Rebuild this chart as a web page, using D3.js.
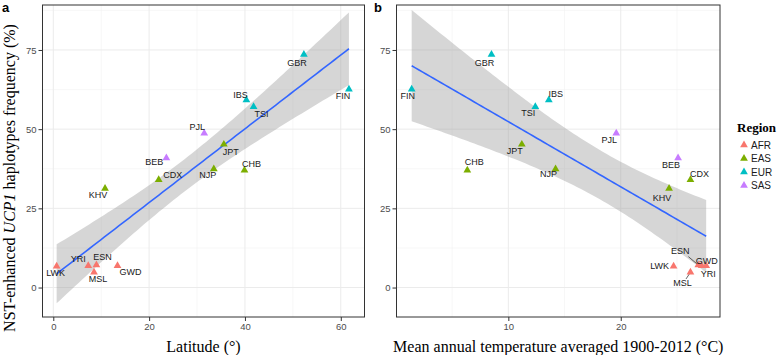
<html>
  <head>
    <script src="https://d3js.org/d3.v7.min.js"></script>
    <style>
      body { margin: 0; background: #fff; }
      text { font-family: "Liberation Sans", Arial, sans-serif; }
      .tick text { fill: #4d4d4d; font-size: 9.5px; }
      .tick line { stroke: #333; }
      .serif { font-family: "Liberation Serif", "Times New Roman", serif; }
    </style>
  </head>
  <body>
    <svg id="chart" width="778" height="355"></svg>
    <script>
      // populations (1000 Genomes)
      const pops = ["GBR", "FIN", "IBS", "TSI", "PJL", "BEB", "JPT", "NJP", "CHB", "CDX", "KHV", "LWK", "YRI", "ESN", "MSL", "GWD"];
      const regions = ["EUR", "EUR", "EUR", "EUR", "SAS", "SAS", "EAS", "EAS", "EAS", "EAS", "EAS", "AFR", "AFR", "AFR", "AFR", "AFR"];
      const latitude = [52.3, 61.7, 40.3, 41.8, 31.5, 23.6, 35.6, 33.5, 39.9, 22.0, 10.8, 0.7, 7.3, 9.0, 8.5, 13.4];
      const temperature = [8.5, 1.4, 13.6, 12.4, 19.6, 25.1, 11.2, 14.2, 6.35, 26.2, 24.3, 24.7, 27.6, 26.9, 26.2, 27.2];
      const frequency = [73.6, 62.6, 59.2, 57.1, 48.7, 40.9, 45.2, 37.4, 37.0, 34.0, 31.3, 6.7, 6.9, 7.1, 4.8, 6.9];

      const regionNames = ["AFR", "EAS", "EUR", "SAS"];
      const regionColors = ["#F8766D", "#7CAE00", "#00BFC4", "#C77CFF"];

      const xTicksA = [0, 20, 40, 60];
      const xMinorA = [10, 30, 50];
      const xTicksB = [10, 20];
      const xMinorB = [5, 15, 25];
      const yTicks = [0, 25, 50, 75];
      const yMinor = [12.5, 37.5, 62.5, 87.5];

      // label nudges (px) as placed by ggrepel in the original
      const nudgeA = {
        GBR: [-7, 8], FIN: [-6, 7], IBS: [-6, -5], TSI: [8, 7], PJL: [-7, -6], BEB: [-12, 4],
        JPT: [7, 7], NJP: [-6, 6], CHB: [7, -6], CDX: [14, -5], KHV: [-7, 6], LWK: [-1, 7],
        YRI: [-10, -7], ESN: [6, -8], MSL: [4, 7], GWD: [13, 6]
      };
      const nudgeB = {
        GBR: [-7, 8], FIN: [-4, 7], IBS: [7, -6], TSI: [-7, 6], PJL: [-7, 7], BEB: [-7, 7],
        JPT: [-7, 6], NJP: [-7, 5], CHB: [7, -8], CDX: [9, -6], KHV: [-7, 9], LWK: [-14, 0],
        YRI: [2, 8], ESN: [-18, -14], MSL: [-8, 11], GWD: [5, -5]
      };

      const data = pops.map((p, i) => ({
        pop: p, region: regions[i], lat: latitude[i], temp: temperature[i], freq: frequency[i]
      }));

      const color = d3.scaleOrdinal().domain(regionNames).range(regionColors);
      const svg = d3.select("#chart");
      const tri = d3.symbol().type(d3.symbolTriangle).size(26);

      // linear fit with 95% confidence band, as geom_smooth(method = "lm")
      function lmBand(xs, ys) {
        const n = xs.length;
        const mx = d3.mean(xs), my = d3.mean(ys);
        let sxx = 0, sxy = 0;
        xs.forEach((x, i) => { sxx += (x - mx) ** 2; sxy += (x - mx) * (ys[i] - my); });
        const b = sxy / sxx, a = my - b * mx;
        let sse = 0;
        xs.forEach((x, i) => { sse += (ys[i] - a - b * x) ** 2; });
        const s = Math.sqrt(sse / (n - 2));
        const t = 2.1448; // t(0.975, 14)
        const [lo, hi] = d3.extent(xs);
        return d3.range(81).map((k) => {
          const x = lo + ((hi - lo) * k) / 80;
          const fit = a + b * x;
          const se = s * Math.sqrt(1 / n + (x - mx) ** 2 / sxx);
          return { x, fit, lo: fit - t * se, hi: fit + t * se };
        });
      }

      function panel(opts) {
        const { xKey, xScale, yScale, xTicks, xMinor, nudge, title, letter, letterX, segs } = opts;
        const g = svg.append("g");
        const [x0, x1] = xScale.range();
        const [y0, y1] = yScale.range();

        // grid, minor first
        g.selectAll(".gx-min").data(xMinor).join("line")
          .attr("x1", (d) => xScale(d)).attr("x2", (d) => xScale(d))
          .attr("y1", y0).attr("y2", y1).attr("stroke", "#f2f2f2").attr("stroke-width", 0.6);
        g.selectAll(".gy-min").data(yMinor.filter((d) => yScale(d) > y1)).join("line")
          .attr("x1", x0).attr("x2", x1)
          .attr("y1", (d) => yScale(d)).attr("y2", (d) => yScale(d)).attr("stroke", "#f2f2f2").attr("stroke-width", 0.6);
        g.selectAll(".gx").data(xTicks).join("line")
          .attr("x1", (d) => xScale(d)).attr("x2", (d) => xScale(d))
          .attr("y1", y0).attr("y2", y1).attr("stroke", "#ebebeb").attr("stroke-width", 1);
        g.selectAll(".gy").data(yTicks).join("line")
          .attr("x1", x0).attr("x2", x1)
          .attr("y1", (d) => yScale(d)).attr("y2", (d) => yScale(d)).attr("stroke", "#ebebeb").attr("stroke-width", 1);

        // smooth
        const band = lmBand(data.map((d) => d[xKey]), data.map((d) => d.freq));
        g.append("path").datum(band)
          .attr("d", d3.area().x((d) => xScale(d.x)).y0((d) => yScale(d.lo)).y1((d) => yScale(d.hi)))
          .attr("fill", "#999").attr("fill-opacity", 0.4);
        g.append("path").datum(band)
          .attr("d", d3.line().x((d) => xScale(d.x)).y((d) => yScale(d.fit)))
          .attr("fill", "none").attr("stroke", "#3366FF").attr("stroke-width", 1.6);

        // label segments
        g.selectAll(".seg").data(data.filter((d) => segs.includes(d.pop))).join("line")
          .attr("x1", (d) => xScale(d[xKey]) + nudge[d.pop][0] * 0.55)
          .attr("y1", (d) => yScale(d.freq) + nudge[d.pop][1] * 0.6)
          .attr("x2", (d) => xScale(d[xKey]))
          .attr("y2", (d) => yScale(d.freq))
          .attr("stroke", "#222").attr("stroke-width", 0.7);

        // points
        g.selectAll(".pt").data(data).join("path")
          .attr("d", tri)
          .attr("transform", (d) => `translate(${xScale(d[xKey])},${yScale(d.freq)})`)
          .attr("fill", (d) => color(d.region));

        // labels
        g.selectAll(".lab").data(data).join("text")
          .attr("x", (d) => xScale(d[xKey]) + nudge[d.pop][0])
          .attr("y", (d) => yScale(d.freq) + nudge[d.pop][1])
          .attr("dy", "0.35em")
          .attr("text-anchor", "middle")
          .attr("font-size", 9)
          .attr("fill", "#1a1a1a")
          .text((d) => d.pop);

        // axes
        g.append("g").attr("transform", `translate(0,${y0})`)
          .call(d3.axisBottom(xScale).tickValues(xTicks).tickSize(4).tickPadding(2))
          .call((a) => a.select(".domain").remove());
        g.append("g").attr("transform", `translate(${x0},0)`)
          .call(d3.axisLeft(yScale).tickValues(yTicks).tickSize(4).tickPadding(2))
          .call((a) => a.select(".domain").remove());

        // border
        g.append("rect").attr("x", x0).attr("y", y1)
          .attr("width", x1 - x0).attr("height", y0 - y1)
          .attr("fill", "none").attr("stroke", "#333").attr("stroke-width", 1);

        g.append("text").attr("class", "serif")
          .attr("x", (x0 + x1) / 2).attr("y", 352)
          .attr("text-anchor", "middle").attr("font-size", 16).attr("fill", "#000")
          .text(title);

        g.append("text").attr("x", letterX).attr("y", 12)
          .attr("font-size", 13).attr("font-weight", "bold").text(letter);
      }

      const yScale = d3.scaleLinear().domain([-9.3, 89.2]).range([317, 5]);
      const xA = d3.scaleLinear().domain([-2.25, 64.95]).range([42.5, 364.5]);
      const xB = d3.scaleLinear().domain([0.05, 28.83]).range([396.5, 720]);

      panel({ xKey: "lat", xScale: xA, yScale, xTicks: xTicksA, xMinor: xMinorA, nudge: nudgeA,
              title: "Latitude (°)", letter: "a", letterX: 2, segs: [] });
      panel({ xKey: "temp", xScale: xB, yScale, xTicks: xTicksB, xMinor: xMinorB, nudge: nudgeB,
              title: "Mean annual temperature averaged 1900-2012 (°C)", letter: "b", letterX: 374, segs: ["ESN", "MSL"] });

      // y axis title
      const yt = svg.append("text").attr("class", "serif")
        .attr("transform", "translate(15,178) rotate(-90)")
        .attr("text-anchor", "middle").attr("font-size", 16).attr("fill", "#000");
      yt.append("tspan").text("NST-enhanced ");
      yt.append("tspan").attr("font-style", "italic").text("UCP1");
      yt.append("tspan").text(" haplotypes frequency (%)");

      // legend
      const leg = svg.append("g");
      leg.append("text").attr("class", "serif").attr("x", 737).attr("y", 132)
        .attr("font-size", 13).attr("font-weight", "bold").text("Region");
      const items = leg.selectAll(".it").data(regionNames).join("g")
        .attr("transform", (d, i) => `translate(744,${145 + i * 13.5})`);
      items.append("path").attr("d", tri).attr("fill", (d) => color(d));
      items.append("text").attr("x", 7).attr("dy", "0.35em")
        .attr("font-size", 10).attr("fill", "#1a1a1a").text((d) => d);
    </script>
  </body>
</html>
